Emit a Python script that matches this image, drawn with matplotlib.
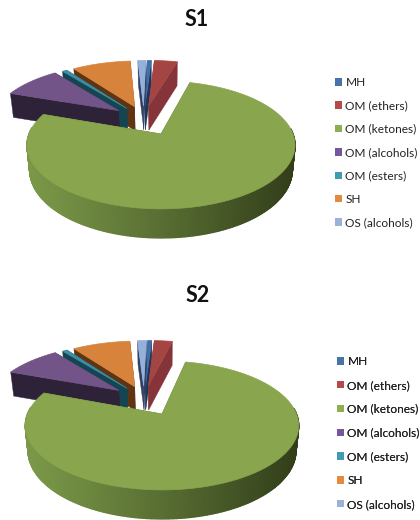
import numpy as np
import matplotlib
matplotlib.use("Agg")
import matplotlib.pyplot as plt
from matplotlib.patches import Patch
from matplotlib.colors import to_rgb

plt.rcParams['font.family'] = ['Lato', 'DejaVu Sans']

# Composition by compound class, in percent
categories = ["MH", "OM (ethers)", "OM (ketones)", "OM (alcohols)",
              "OM (esters)", "SH", "OS (alcohols)"]
s1_values = [0.6, 3.5, 76.0, 8.8, 0.7, 8.8, 1.2]
s2_values = [0.6, 2.7, 77.2, 8.5, 0.7, 8.6, 1.3]

top_colors = ["#3f70aa", "#a54543", "#89a54e", "#735489", "#3a8ea6", "#d8833b", "#95b0d9"]
side_colors = ["#20355a", "#85353a", "#566a2e", "#2e2238", "#164552", "#5e3412", "#2f3f5f"]
legend_colors = ["#4674a8", "#b44a4a", "#8fae52", "#76589a", "#419bb0", "#e38a41", "#9cb1d8"]
green_side_left = "#7a9848"
green_side_right = "#323e1a"

# Radial pull-out of each slice, as a fraction of the radius
explode = [0.235, 0.235, 0.29, 0.255, 0.235, 0.235, 0.235]


class Projection:
    """Perspective view of the pie plane, pivoting on the main slice's apex."""

    def __init__(self, x0, y0, rx, ry, k, pivot, depth=24.0, front=5.0, taper=0.98):
        self.x0, self.y0, self.rx, self.ry, self.k = x0, y0, rx, ry, k
        self.pivot = pivot
        self.depth, self.front, self.taper = depth, front, taper

    def top(self, u, v):
        du, dv = np.asarray(u) - self.pivot[0], np.asarray(v) - self.pivot[1]
        w = 1.0 / (1.0 + self.k * dv)
        return self.x0 + self.rx * du * w, self.y0 - self.ry * dv * w

    def bottom(self, u, v):
        x, y = self.top(u, v)
        dv = np.asarray(v) - self.pivot[1]
        extra = self.depth + self.front * np.clip(-dv, 0, None)
        return self.x0 + (x - self.x0) * self.taper, y + extra


def draw_pie(ax, values, proj_args, title, title_x, title_y, legend_anchor, spacing):
    vals = np.asarray(values, float)
    edges = np.concatenate([[0], np.cumsum(vals) / vals.sum() * 2 * np.pi])
    mids = (edges[:-1] + edges[1:]) / 2
    main = int(np.argmax(vals))
    offsets = np.asarray(explode)
    cu = offsets * np.sin(mids)
    cv = offsets * np.cos(mids)
    proj = Projection(*proj_args, pivot=(cu[main], cv[main]))

    # Far slices first, so nearer ones cover them
    for i in np.argsort(-cv):
        t = np.linspace(edges[i], edges[i + 1], max(4, int((edges[i + 1] - edges[i]) * 60)))
        au, av = cu[i] + np.sin(t), cv[i] + np.cos(t)
        ax_, ay_ = proj.top(cu[i], cv[i])
        bx_, by_ = proj.bottom(cu[i], cv[i])
        tx, ty = proj.top(au, av)
        bx, by = proj.bottom(au, av)
        side = side_colors[i]
        # Radial walls of the slice
        for j in (0, -1):
            ax.fill([ax_, tx[j], bx[j], bx_], [ay_, ty[j], by[j], by_],
                    color=side, lw=0.3, zorder=2)
        # Outer rim on the near half, shaded from left to right on the large slice
        xmin, xmax = proj.x0 - proj.rx, proj.x0 + proj.rx
        for j in range(len(t) - 1):
            if av[j] - proj.pivot[1] > 0.1:
                continue
            if i == main:
                f = np.clip((tx[j] - xmin) / (xmax - xmin), 0, 1) ** 1.1
                c = (1 - f) * np.array(to_rgb(green_side_left)) + f * np.array(to_rgb(green_side_right))
            else:
                c = to_rgb(side)
            ax.fill([tx[j], tx[j + 1], bx[j + 1], bx[j]],
                    [ty[j], ty[j + 1], by[j + 1], by[j]],
                    color=c, lw=1.0, zorder=2)
        ax.fill(np.r_[ax_, tx], np.r_[ay_, ty], color=top_colors[i], lw=0.5, zorder=2)

    ax.text(title_x, title_y, title, fontsize=15.5, fontweight="bold",
            ha="center", va="center", color="#111111", zorder=3)
    handles = [Patch(facecolor=c, edgecolor="none") for c in legend_colors]
    legend = ax.legend(handles, categories, loc="upper left", bbox_to_anchor=legend_anchor,
                       bbox_transform=ax.transData, frameon=False, fontsize=8.55,
                       handlelength=0.58, handleheight=0.58, handletextpad=0.3,
                       labelspacing=spacing, borderpad=0, borderaxespad=0, labelcolor="#222222")
    ax.add_artist(legend)


fig = plt.figure(figsize=(4.2, 5.2), dpi=100, facecolor="white")
ax = fig.add_axes([0, 0, 1, 1])
ax.set_xlim(0, 420)
ax.set_ylim(520, 0)
ax.axis("off")

draw_pie(ax, s1_values, (161, 134, 132, 62, 0.172), "S1", 197, 19, (335, 77), 1.04)
draw_pie(ax, s2_values, (162, 414, 134.5, 62.4, 0.178), "S2", 198, 296, (337, 356), 1.08)

fig.savefig("out.png", dpi=100, facecolor="white")
